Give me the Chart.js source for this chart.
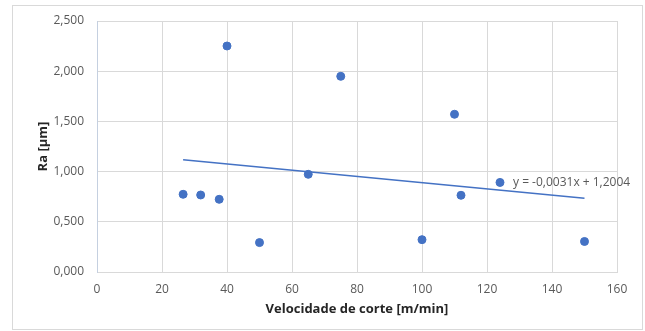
<!DOCTYPE html>
<html>
<head>
<meta charset="utf-8">
<script src="https://cdn.jsdelivr.net/npm/chart.js@4/dist/chart.umd.min.js"></script>
<style>
  html, body { margin: 0; padding: 0; background: #ffffff; }
  #wrap { width: 645px; height: 331px; position: relative; }
</style>
</head>
<body>
<div id="wrap"><canvas id="c" width="645" height="331"></canvas></div>
<script>
const speeds = [26.5, 31.9, 37.6, 40, 50, 65, 75, 100, 110, 112, 124, 150];
const roughness = [0.774, 0.767, 0.724, 2.251, 0.293, 0.973, 1.949, 0.322, 1.571, 0.764, 0.892, 0.304];
const trendSlope = -0.0031;
const trendIntercept = 1.2004;
const trendLabel = 'y = -0,0031x + 1,2004';
const xTitle = 'Velocidade de corte [m/min]';
const yTitle = 'Ra [µm]';

const pts = speeds.map((x, i) => ({ x: x, y: roughness[i] }));
const xMin = Math.min(...speeds), xMax = Math.max(...speeds);
const trend = [
  { x: xMin, y: trendSlope * xMin + trendIntercept },
  { x: xMax, y: trendSlope * xMax + trendIntercept }
];

const FONT = '"Open Sans", Lato, sans-serif';

const frame = {
  id: 'frame',
  beforeDraw(chart) {
    const ctx = chart.ctx;
    ctx.save();
    ctx.fillStyle = '#ffffff';
    ctx.fillRect(0, 0, chart.width, chart.height);
    ctx.strokeStyle = '#d9d9d9';
    ctx.lineWidth = 1;
    ctx.strokeRect(12.5, 5.5, 630, 324);
    ctx.restore();
  },
  afterDatasetsDraw(chart) {
    const ctx = chart.ctx;
    const xs = chart.scales.x, ys = chart.scales.y;
    ctx.save();
    ctx.font = '12px ' + FONT;
    ctx.fillStyle = '#595959';
    ctx.textAlign = 'left';
    ctx.textBaseline = 'middle';
    ctx.fillText(trendLabel, xs.getPixelForValue(128), ys.getPixelForValue(0.89));
    ctx.restore();
  }
};

new Chart(document.getElementById('c'), {
  type: 'scatter',
  data: {
    datasets: [
      {
        label: 'Ra',
        data: pts,
        backgroundColor: '#4472c4',
        borderColor: '#4472c4',
        pointRadius: 4,
        pointHoverRadius: 4,
        order: 1
      },
      {
        type: 'line',
        label: 'Trend',
        data: trend,
        borderColor: '#4472c4',
        borderWidth: 1.5,
        pointRadius: 0,
        fill: false,
        order: 2
      }
    ]
  },
  options: {
    responsive: false,
    animation: false,
    events: [],
    layout: { padding: { left: 0, right: 28, top: 21, bottom: 0 } },
    plugins: {
      legend: { display: false },
      tooltip: { enabled: false }
    },
    scales: {
      x: {
        type: 'linear',
        min: 0, max: 160,
        ticks: {
          stepSize: 20,
          padding: 10,
          color: '#595959',
          font: { family: FONT, size: 12 },
          maxRotation: 0
        },
        grid: { color: '#d9d9d9', drawTicks: false },
        border: { color: '#d9d9d9' },
        title: {
          display: true,
          text: xTitle,
          color: '#262626',
          font: { family: FONT, size: 13, weight: 'bold' },
          padding: { top: 0, bottom: 14 }
        },
        afterFit(s) { s.height = 59; }
      },
      y: {
        min: 0, max: 2.5,
        ticks: {
          stepSize: 0.5,
          padding: 13,
          color: '#595959',
          font: { family: FONT, size: 12 },
          callback: v => v.toFixed(3).replace('.', ',')
        },
        grid: { color: '#d9d9d9', drawTicks: false },
        border: { color: '#c5d0e0' },
        title: {
          display: true,
          text: yTitle,
          color: '#262626',
          font: { family: FONT, size: 13, weight: 'bold' },
          padding: { top: 35, bottom: 0 }
        },
        afterFit(s) { s.width = 97; }
      }
    }
  },
  plugins: [frame]
});
</script>
</body>
</html>
